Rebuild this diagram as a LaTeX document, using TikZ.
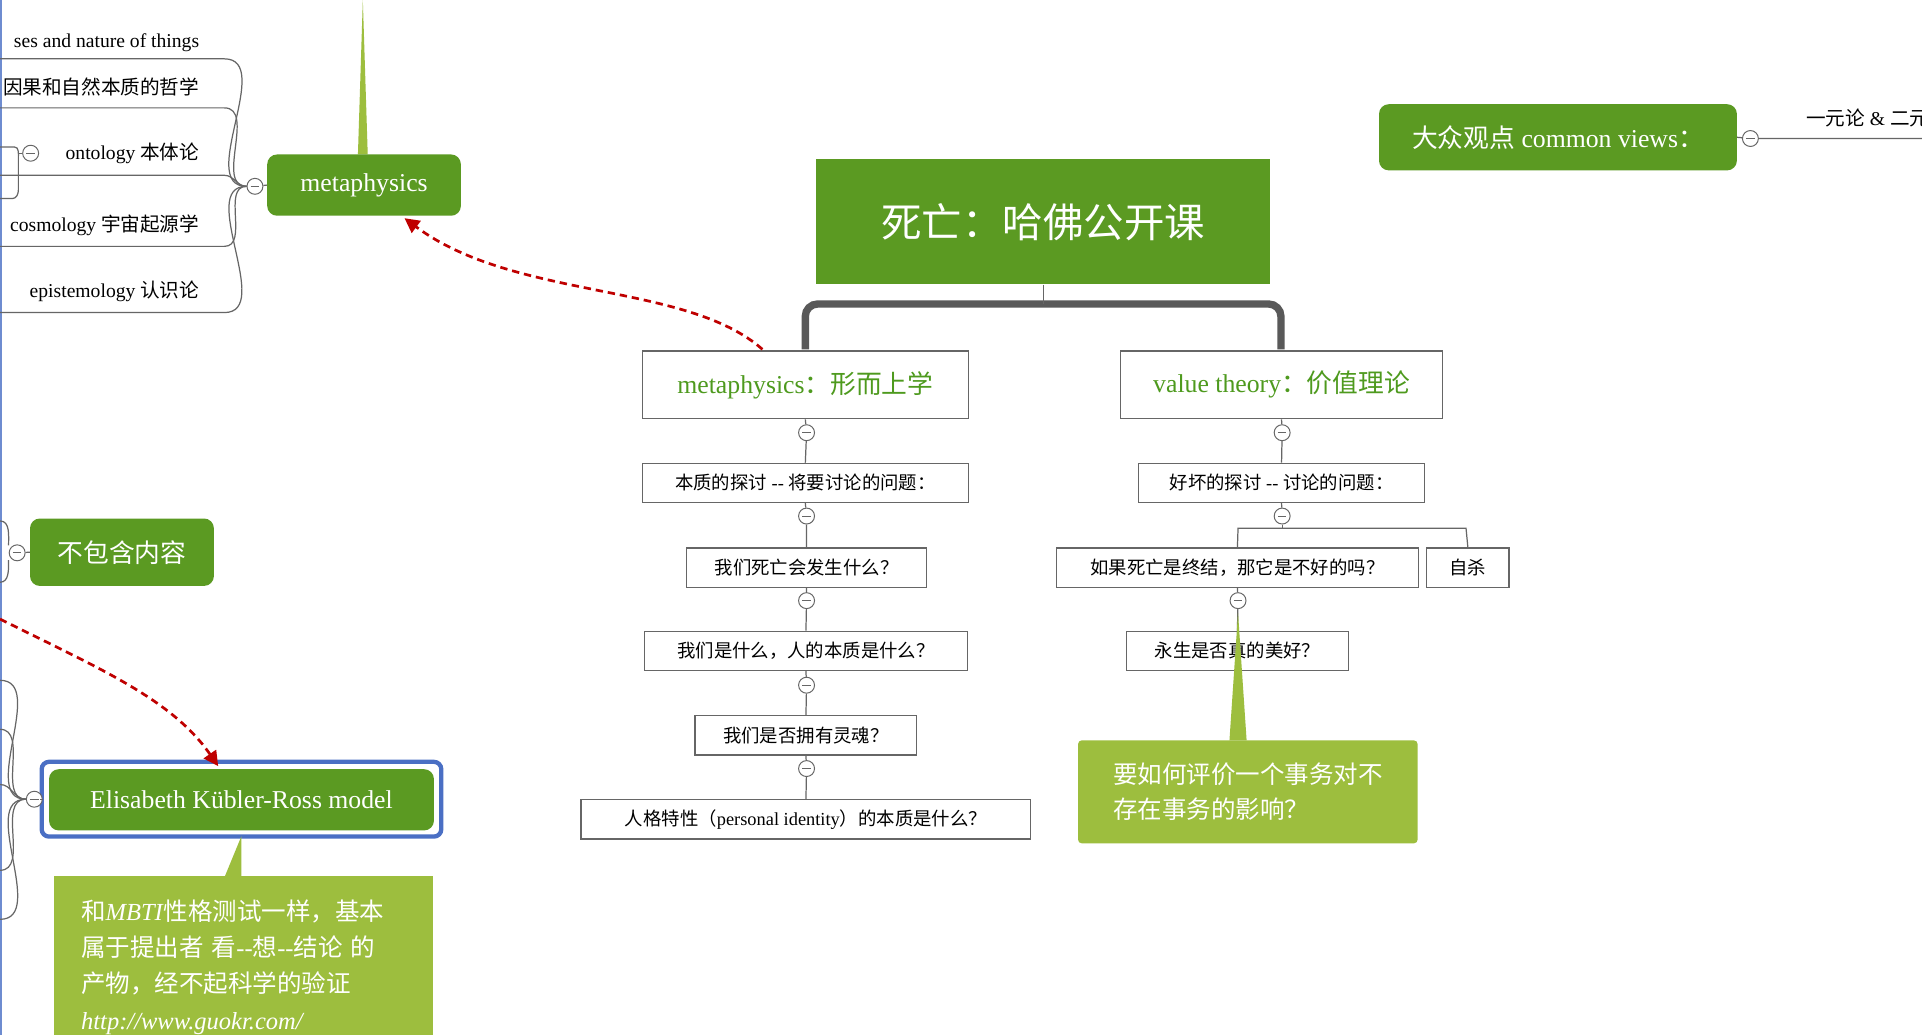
\documentclass[tikz,border=0pt]{standalone}
\usepackage{fontspec}
\setmainfont{Liberation Serif}
\newfontfamily\cjk{Noto Sans CJK SC}
\newfontfamily\lat{Liberation Serif}
\XeTeXinterchartokenstate=1
\newXeTeXintercharclass\cjkclass
\count255="4E00 \loop \XeTeXcharclass\count255=\cjkclass \advance\count255 1 \ifnum\count255<"A000 \repeat
\count255="FF00 \loop \XeTeXcharclass\count255=\cjkclass \advance\count255 1 \ifnum\count255<"FFF0 \repeat
\count255="3000 \loop \XeTeXcharclass\count255=\cjkclass \advance\count255 1 \ifnum\count255<"3040 \repeat
\XeTeXinterchartoks 0 \cjkclass = {\cjk}
\XeTeXinterchartoks 4095 \cjkclass = {\cjk}
\XeTeXinterchartoks \cjkclass 0 = {\lat}
\XeTeXinterchartoks \cjkclass 4095 = {\lat}
\usetikzlibrary{arrows.meta}
\definecolor{dg}{HTML}{5B9A22}
\definecolor{lg}{HTML}{9DBE3E}
\definecolor{tg}{HTML}{4E9A1E}
\definecolor{bx}{HTML}{666666}
\definecolor{bl}{HTML}{4A6FC4}
\tikzset{
 qbox/.style={draw=bx,fill=white,line width=1pt,minimum height=32pt,inner xsep=4pt,font=\fontsize{15}{18}\selectfont},
 hbox/.style={draw=bx,fill=white,line width=1.2pt,minimum height=55pt,text=tg,font=\fontsize{21}{24}\selectfont},
 gnode/.style={fill=dg,rounded corners=8pt,text=white,minimum height=52pt,font=\fontsize{21}{24}\selectfont},
 mc/.style={circle,draw=bx,fill=white,minimum size=13pt,inner sep=0pt,line width=0.8pt,path picture={\draw[bx,line width=0.8pt] ([xshift=-3.5pt]path picture bounding box.center)--([xshift=3.5pt]path picture bounding box.center);}},
 ln/.style={draw=bx,line width=1pt},
 rd/.style={draw=red!75!black,dashed,line width=2.2pt,dash pattern=on 6pt off 4pt,-{Triangle[length=12pt,width=12pt]}},
 itm/.style={anchor=base east,font=\fontsize{16}{19}\selectfont},
}
\begin{document}
\begin{tikzpicture}[x=1pt,y=-1pt]
\useasboundingbox (0,0) rectangle (1568,844);
\fill[white] (0,0) rectangle (1568,844);
\draw[bl!80,line width=1.5pt] (1,0)--(1,844);
% title
\node[fill=dg,minimum width=370pt,minimum height=102pt,text=white,font=\fontsize{33}{36}\selectfont] (t) at (851,181) {死亡：哈佛公开课};
\draw[gray!70!black,line width=6pt] (657,285)--(657,258) arc(180:270:10) -- (1035,248) arc(270:360:10) -- (1045,285);
\draw[bx,line width=1pt] (t.south)--(851,248);
\node[hbox,minimum width=266pt] (m) at (657,314) {metaphysics：形而上学};
\node[hbox,minimum width=263pt] (v) at (1045.5,314) {value theory：价值理论};
% left column
\node[qbox,minimum width=266pt] (a1) at (657,394) {本质的探讨 -- 将要讨论的问题：};
\node[qbox,minimum width=196pt] (a2) at (658,463) {我们死亡会发生什么？};
\node[qbox,minimum width=263pt] (a3) at (657.5,531) {我们是什么，人的本质是什么？};
\node[qbox,minimum width=181pt] (a4) at (657.5,600) {我们是否拥有灵魂？};
\node[qbox,minimum width=367pt] (a5) at (657.5,668.5) {人格特性（personal identity）的本质是什么？};
\foreach \p/\n/\y in {m/a1/353,a1/a2/421,a2/a3/490,a3/a4/559,a4/a5/627}{
 \node[mc] (c\n) at (658,\y) {};
 \draw[ln] (\p.south)--(c\n)--(\n.north);
}
% right column
\node[qbox,minimum width=233pt] (b1) at (1045.5,394) {好坏的探讨 -- 讨论的问题：};
\node[qbox,minimum width=295pt] (b2) at (1009.5,463) {如果死亡是终结，那它是不好的吗？};
\node[qbox,minimum width=67pt] (b3) at (1197.5,463) {自杀};
\node[qbox,minimum width=181pt] (b4) at (1009.5,531) {永生是否真的美好？};
\node[mc] (cb1) at (1046,353) {};
\node[mc] (cb2) at (1046,421) {};
\node[mc] (cb3) at (1010,490) {};
\draw[ln] (v.south)--(cb1)--(b1.north);
\draw[ln] (b1.south)--(cb2);
\coordinate (j) at (1046,431);
\draw[ln] (cb2)--(j);
\draw[ln] (b2.north)--(1010,431)--(1196,431)--(b3.north);
\draw[ln] (b2.south)--(cb3)--(b4.north);
% callout right
\fill[lg] (1003,604)--(1010,500)--(1017,604)--cycle;
\node[fill=lg,rounded corners=3pt,minimum width=277pt,minimum height=84pt,text=white,align=left,font=\fontsize{20}{29}\selectfont] (k1) at (1018,646) {要如何评价一个事务对不\\存在事务的影响？};
% metaphysics top-left
\fill[lg] (292,126)--(296,0)--(300,126)--cycle;
\node[gnode,minimum width=158pt,minimum height=50pt] (mp) at (297,151) {metaphysics};
\node[mc] (cm) at (208,152) {};
\draw[ln] (cm)--(mp.west);
\foreach \y/\ya/\t/\i in {34/48/ses and nature of things/1,72/88/因果和自然本质的哲学/2,125/143/ontology 本体论/3,184/201/cosmology 宇宙起源学/4,238/255/epistemology 认识论/5}{
 \node[itm] (it\i) at (166,\y+5) {\t};
 \coordinate (u\i) at (183,\ya);
 \draw[ln] (0,\ya)--(u\i) to[out=0,in=180] (cm.west);
}
\node[mc] (co) at (25,125) {};
\draw[ln] (co.west) -- (15,125);
\draw[ln] (0,120)--(12,120) to[out=0,in=90] (15,128)--(15,155) to[out=-90,in=0] (10,162)--(0,162);
% 不包含内容
\node[gnode,minimum width=150pt,minimum height=55pt] (bb) at (99.5,450.5) {不包含内容};
\node[mc] (cbb) at (14,451) {};
\draw[ln] (cbb)--(bb.west);
\draw[ln] (0,425) to[out=0,in=90] (7,445);
\draw[ln] (0,475) to[out=0,in=-90] (7,457);
% Kubler-Ross
\node[draw=bl,line width=3.5pt,rounded corners=6pt,minimum width=326pt,minimum height=61pt] (kr0) at (197,652) {};
\node[gnode,minimum width=314pt,minimum height=50pt,font=\fontsize{21}{24}\selectfont] (kr) at (197,652.5) {Elisabeth Kübler-Ross model};
\node[mc] (ck) at (28,652) {};
\draw[ln] (ck)--(kr0.west);
\foreach \y in {555,595,710,750}{\draw[ln] (0,\y) to[out=0,in=180] (ck.west);}
\draw[ln] (0,640) to[out=0,in=180] (ck.west);
% bottom callout
\fill[lg] (183,716)--(197,682)--(197,716)--cycle;
\fill[lg] (44,715) rectangle (353,844);
\node[anchor=north west,text=white,align=left,font=\fontsize{20}{29.5}\selectfont,inner sep=0pt,text width=290pt] (k2) at (66,734) {和\textit{MBTI}性格测试一样，基本\\属于提出者 看--想--结论 的\\产物，经不起科学的验证\\\textit{http://www.guokr.com/}};
% red dashed arrows
\draw[rd] (622,285) .. controls (560,230) and (420,245) .. (330,178);
\coordinate (rs) at (0,505);
\draw[rd] (rs) .. controls (80,545) and (140,570) .. (178,625);
% common views
\node[gnode,minimum width=292pt,minimum height=54pt] (cv) at (1271,112) {大众观点 common views：};
\node[mc] (ccv) at (1428,113) {};
\coordinate (ce) at (1568,113);
\draw[ln] (cv.east)--(ccv)--(ce);
\node[anchor=base west,font=\fontsize{16}{19}\selectfont] (cvt) at (1470,102) {一元论 \& 二元论};
\end{tikzpicture}
\end{document}
